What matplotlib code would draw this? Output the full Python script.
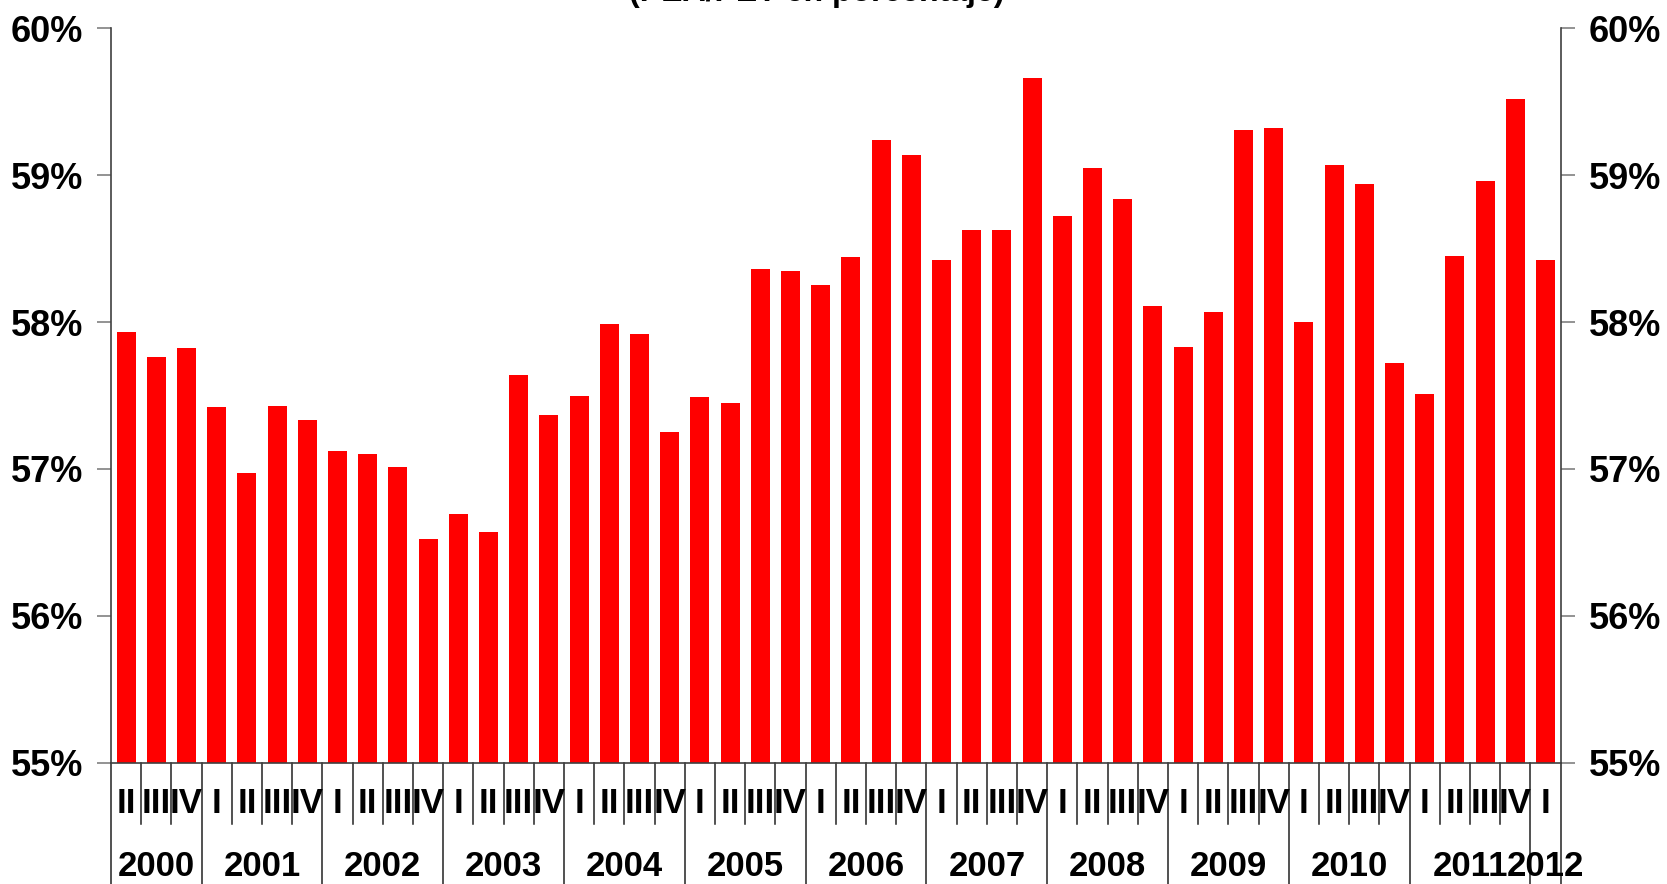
import matplotlib
matplotlib.use('Agg')
import matplotlib.pyplot as plt
import matplotlib.transforms as mtransforms

plt.rcParams['font.family'] = ['Liberation Sans', 'DejaVu Sans']
plt.rcParams['font.weight'] = 'bold'

# quarterly ratio PEA / PET (%), 2000-II .. 2012-I
quarters = ['II', 'III', 'IV'] + ['I', 'II', 'III', 'IV'] * 11 + ['I']
years = [2000] * 3 + [y for y in range(2001, 2012) for _ in range(4)] + [2012]
values = [57.93, 57.76, 57.82,
          57.42, 56.97, 57.43, 57.33,
          57.12, 57.10, 57.01, 56.52,
          56.69, 56.57, 57.64, 57.37,
          57.50, 57.99, 57.92, 57.25,
          57.49, 57.45, 58.36, 58.35,
          58.25, 58.44, 59.24, 59.14,
          58.42, 58.63, 58.63, 59.66,
          58.72, 59.05, 58.84, 58.11,
          57.83, 58.07, 59.31, 59.32,
          58.00, 59.07, 58.94, 57.72,
          57.51, 58.45, 58.96, 59.52,
          58.42]
yticks = [55, 56, 57, 58, 59, 60]
title = '(PEA/PET en porcentaje)'

fig = plt.figure(figsize=(16.67, 8.84), dpi=100)
ax = fig.add_axes([0.0666, 0.1372, 0.8696, 0.8308])

x = list(range(len(values)))
ax.bar(x, [v - 55 for v in values], bottom=55, width=0.63, color='#ff0000')

ax.set_xlim(-0.5, len(values) - 0.5)
ax.set_ylim(55, 60)
ax.set_yticks(yticks)
ax.set_yticklabels([f'{t}%' for t in yticks])
ax.tick_params(axis='y', which='both', left=True, right=True, labelleft=True,
               labelright=True, length=10, width=1.2, color='#808080',
               labelsize=26, pad=10)
ax.set_xticks([])

ax.spines['top'].set_visible(False)
for side in ['left', 'right', 'bottom']:
    ax.spines[side].set_color('#404040')
    ax.spines[side].set_linewidth(1.2)

trans = mtransforms.blended_transform_factory(ax.transData, ax.transAxes)

# separators below the axis: short for quarters, long for years
for i in range(len(values) + 1):
    xs = i - 0.5
    new_year = i == 0 or i == len(values) or years[i] != years[i - 1]
    y_end = -0.17 if new_year else -0.0835
    ax.plot([xs, xs], [0, y_end], color='#222222', lw=1.1,
            transform=trans, clip_on=False)

for i, q in enumerate(quarters):
    ax.text(i, -0.056, q, transform=trans, ha='center', va='center',
            fontsize=25, fontweight='bold')

for yr in sorted(set(years)):
    idx = [i for i, y in enumerate(years) if y == yr]
    ax.text(sum(idx) / len(idx), -0.1407, str(yr), transform=trans,
            ha='center', va='center', fontsize=25, fontweight='bold')

# title sits mostly above the top edge, as in the source image
fig.text(816.5 / 1667, 1 - 1.5 / 884, title, ha='center', va='baseline',
         fontsize=23, fontweight='bold')

fig.savefig('out.png', dpi=100)
